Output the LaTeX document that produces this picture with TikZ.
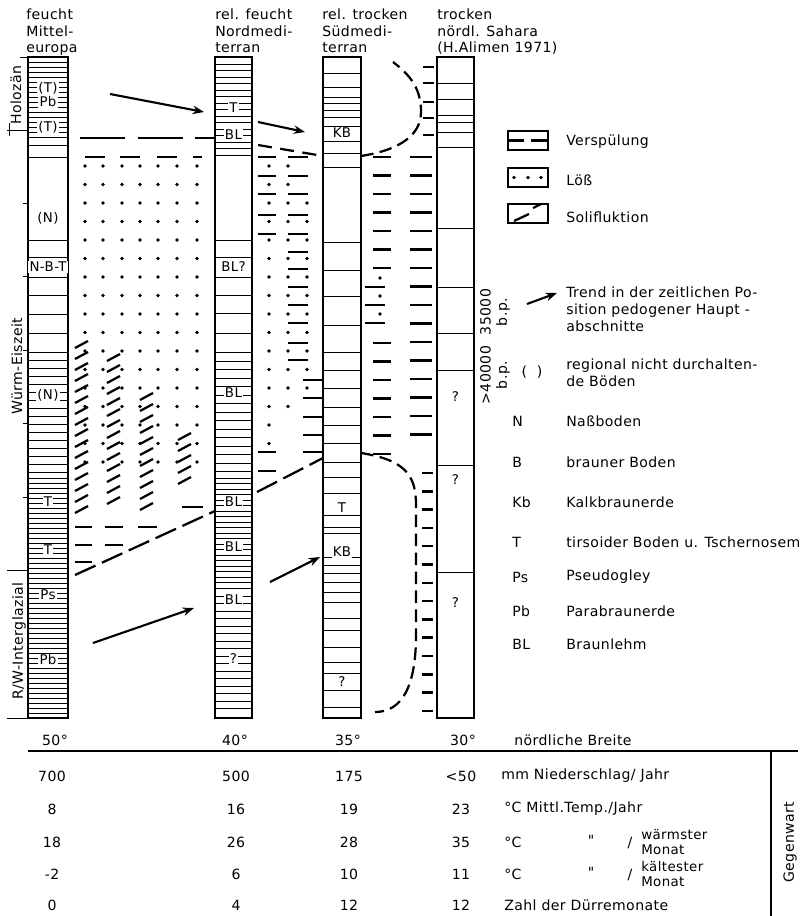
\documentclass[tikz,border=0pt]{standalone}
\usepackage{fontspec}
\setmainfont[LetterSpace=3]{DejaVu Sans}
\usetikzlibrary{arrows.meta, positioning, calc}

\begin{document}
\begin{tikzpicture}[
  x=0.025cm, y=-0.025cm,
  font=\fontsize{10}{11.6}\selectfont,
  col/.style={draw, line width=1pt},
  hatch/.style={line width=0.7pt},
  lbl/.style={fill=white, inner sep=0.8pt, font=\fontsize{9.5}{10}\selectfont},
  wash/.style={line width=1.8pt},
  solif/.style={line width=1.6pt},
  bound/.style={line width=1.6pt, dash pattern=on 16pt off 5pt},
  rim/.style={line width=1.6pt, dash pattern=on 9pt off 4.5pt},
  trend/.style={-{Stealth[length=8pt, width=6pt]}, line width=1.5pt},
  head/.style={anchor=north west, align=left, inner sep=0pt},
  txt/.style={anchor=west, align=left, inner sep=0pt},
  dot/.style={radius=1.3pt}
]
\useasboundingbox (0,0) rectangle (802,916);

\node[head] (h1) at (26,9) {feucht\\Mittel-\\europa};
\node[head] (h2) at (215,9) {rel. feucht\\Nordmedi-\\terran};
\node[head] (h3) at (322,9) {rel. trocken\\Südmedi-\\terran};
\node[head] (h4) at (437,9) {trocken\\nördl. Sahara\\(H.Alimen 1971)};

\draw[col] (28,57) rectangle (68,718);
\draw[col] (215,57) rectangle (252,718);
\draw[col] (323,57) rectangle (361,718);
\draw[col] (437,57) rectangle (474,718);

\foreach \y in {62,67,...,137} \draw[hatch] (28,\y) -- (68,\y);
\foreach \y in {145,157,240,257,277,295,314,333,352} \draw[hatch] (28,\y) -- (68,\y);
\foreach \y in {360,368,...,472} \draw[hatch] (28,\y) -- (68,\y);
\foreach \y in {478,483,...,713} \draw[hatch] (28,\y) -- (68,\y);

\foreach \y in {64,70.5,...,155} \draw[hatch] (215,\y) -- (252,\y);
\foreach \y in {240,257,277,295,313,333,352} \draw[hatch] (215,\y) -- (252,\y);
\foreach \y in {361,369.5,...,473} \draw[hatch] (215,\y) -- (252,\y);
\foreach \y in {478,483.5,...,590} \draw[hatch] (215,\y) -- (252,\y);
\foreach \y in {596,603.5,...,711} \draw[hatch] (215,\y) -- (252,\y);

\foreach \y in {73,87,97,103,110,117,126,141,153,167,242,270,296,325,352,370,388,407,425,443,462,477,493,515,527,533,557,565,573,582,592,602,618,630,647,662,673,690,707}
  \draw[hatch] (323,\y) -- (361,\y);

\foreach \y in {83,99,115,122,132,147,228,287,333,370,465,572}
  \draw[hatch] (437,\y) -- (474,\y);

\foreach \y/\lab [count=\i] in {88/(T),102/Pb,127/(T),218/(N),267/N-B-T,395/(N),502/T,550/T,595/Ps,660/Pb}
  \node[lbl] (a\i) at (48,\y) {\lab};
\foreach \y/\lab [count=\i] in {108/T,135/BL,267/BL?,393/BL,502/BL,547/BL,600/BL,659/?}
  \node[lbl] (b\i) at (233.5,\y) {\lab};
\foreach \y/\lab [count=\i] in {133/KB,508/T,552/KB,682/?}
  \node[lbl] (c\i) at (342,\y) {\lab};
\foreach \y [count=\i] in {397,480,603}
  \node[lbl] (d\i) at (455.5,\y) {?};

\node[rotate=90] (holo) at (16,95) {Holozän};
\node[rotate=90] (wuerm) at (17,366) {Würm-Eiszeit};
\node[rotate=90] (rw) at (19,641) {R/W-Interglazial};
\draw (20,57) -- (28,57);
\draw (7,130) -- (28,130);
\draw (9,123) -- (9,136);
\draw (7,570) -- (28,570);
\draw (7,718) -- (28,718);
\foreach \y in {203,276,350,423,497} \draw (23,\y) -- (28,\y);

\node[rotate=90, align=center] (bp1) at (495,312) {35000\\b.p.};
\node[rotate=90, align=center] (bp2) at (495,375) {>40000\\b.p.};

\foreach \x in {85,103,122,140,158,177,197}
  \foreach \y in {166,184.5,...,463} \fill (\x,\y) circle[dot];
\foreach \x/\y/\l in {85/157/20,120/157/20,157/157/20,193/157/9,75/527/17,105/527/18,138/527/19,75/545/17,105/545/18,75/562/17,182/507/21}
  \draw[wash] (\x,\y) -- ++(\l,0);
\foreach \y in {345,356,...,510} \draw[solif] (75,\y+3) -- (88,\y-4);
\foreach \y in {358,369,...,508} \draw[solif] (107,\y+3) -- (120,\y-4);
\foreach \y in {397,408,...,507} \draw[solif] (140,\y+3) -- (153,\y-4);
\foreach \y in {437,448,...,488} \draw[solif] (178,\y+3) -- (191,\y-4);
\draw[line width=1.6pt, dash pattern=on 32pt off 9pt] (80,138) -- (215,138);
\draw[line width=1.6pt, dash pattern=on 10pt off 6pt] (258,145) -- (323,156);
\draw[bound] (75,575) -- (215,511);
\draw[bound] (257,492) -- (323,458);

\foreach \y in {157,176,194,215,234,452,471} \draw[wash] (258,\y) -- ++(18,0);
\foreach \y in {157,176,194,215,234,252,269,287,305,323,343,360} \draw[wash] (288,\y) -- ++(20,0);
\foreach \y in {380,398,417,435,452} \draw[wash] (303,\y) -- ++(19,0);
\foreach \y in {166,184.5,...,445} \fill (269,\y) circle[dot];
\foreach \y in {166,184.5,...,408} \fill (288,\y) circle[dot];
\foreach \y in {203,221.5,...,390} \fill (307,\y) circle[dot];

\foreach \y in {67,83,102,118,135} \draw[wash] (423,\y) -- (434,\y);
\foreach \y in {157,175.5,...,268} \draw[wash] (373,\y) -- ++(18,0);
\foreach \y in {287,305,323} \draw[wash] (365,\y) -- ++(20,0);
\foreach \y in {278,296,314} \fill (380,\y) circle[dot];
\foreach \y in {343,361.5,...,454} \draw[wash] (373,\y) -- ++(18,0);
\foreach \y in {157,175.5,...,452} \draw[wash] (410,\y) -- ++(22,0);
\foreach \y in {473,491.3,...,712} \draw[wash] (422,\y) -- ++(11,0);
\draw[rim] (361,156) .. controls (400,150) and (421,135) .. (421,112) .. controls (421,88) and (410,75) .. (393,62);
\draw[rim] (361,453) .. controls (405,460) and (416,475) .. (416,505) -- (416,635) .. controls (416,690) and (400,712) .. (375,712);

\coordinate (t1a) at (110,94);  \coordinate (t1b) at (204,112);
\coordinate (t2a) at (258,122); \coordinate (t2b) at (305,132);
\coordinate (t3a) at (270,582); \coordinate (t3b) at (320,557);
\coordinate (t4a) at (93,643);  \coordinate (t4b) at (194,608);
\draw[trend] (t1a) -- (t1b);
\draw[trend] (t2a) -- (t2b);
\draw[trend] (t3a) -- (t3b);
\draw[trend] (t4a) -- (t4b);

\draw[line width=0.8pt] (508,131) rectangle (548,150);
\draw[wash] (508,140.5) -- (524,140.5);
\draw[wash] (531,140.5) -- (548,140.5);
\node[txt] (lv) at (566,142) {Verspülung};
\draw[line width=0.8pt] (508,168) rectangle (548,187);
\foreach \x in {514,528,541} \fill (\x,177.5) circle[dot];
\node[txt] (ll) at (566,180) {Löß};
\draw[line width=0.8pt] (508,204) rectangle (548,223);
\draw[solif] (514,221) -- (529,214);
\draw[solif] (533,208) -- (541,204);
\node[txt] (ls) at (566,217) {Solifluktion};

\coordinate (lta) at (527,304); \coordinate (ltb) at (557,293);
\draw[trend] (lta) -- (ltb);
\node[head, font=\fontsize{10}{12}\selectfont] (lt) at (566,287) {Trend in der zeitlichen Po-\\sition pedogener Haupt -\\abschnitte};
\node (lk) at (532,372) {(\ \ )};
\node[head, font=\fontsize{10}{12}\selectfont] (lr) at (566,359) {regional nicht durchalten-\\de Böden};
\foreach \y/\k/\dsc in {421/N/Naßboden,462/B/brauner Boden,502/Kb/Kalkbraunerde,542/T/tirsoider Boden u. Tschernosem,577/Ps/Pseudogley,611/Pb/Parabraunerde,644/BL/Braunlehm} {
  \node[txt] (k\k) at (512,\y) {\k};
  \node[txt] (e\k) at (566,\y) {\dsc};
}

\foreach \x/\g [count=\i] in {55/50,235/40,348/35,463/30} \node (g\i) at (\x,740) {\g°};
\node[txt] (nb) at (514,740) {nördliche Breite};
\draw[line width=0.9pt] (28,751) -- (798,751);
\draw[line width=0.9pt] (771,751) -- (771,916);
\node[rotate=90] (gw) at (790,842) {Gegenwart};

\foreach \y/\a/\b/\c/\e [count=\i] in {776/700/500/175/<50,809/8/16/19/23,842/18/26/28/35,874/-2/6/10/11,905/0/4/12/12} {
  \node (v\i a) at (52,\y) {\a};
  \node (v\i b) at (236,\y) {\b};
  \node (v\i c) at (349,\y) {\c};
  \node (v\i d) at (461,\y) {\e};
}
\node[txt] (r1) at (501,776) {mm Niederschlag/ Jahr};
\node[txt] (r2) at (504,809) {°C Mittl.Temp./Jahr};
\node[txt] (r3) at (504,842) {°C};
\node (r3q) at (591,840) {\textquotedbl};
\node (r3s) at (630,843) {/};
\node[txt, font=\fontsize{9.5}{10.5}\selectfont] (r3m) at (641,842) {wärmster\\Monat};
\node[txt] (r4) at (504,874) {°C};
\node (r4q) at (591,872) {\textquotedbl};
\node (r4s) at (630,875) {/};
\node[txt, font=\fontsize{9.5}{10.5}\selectfont] (r4m) at (641,874) {kältester\\Monat};
\node[txt] (r5) at (504,905) {Zahl der Dürremonate};
\end{tikzpicture}
\end{document}
